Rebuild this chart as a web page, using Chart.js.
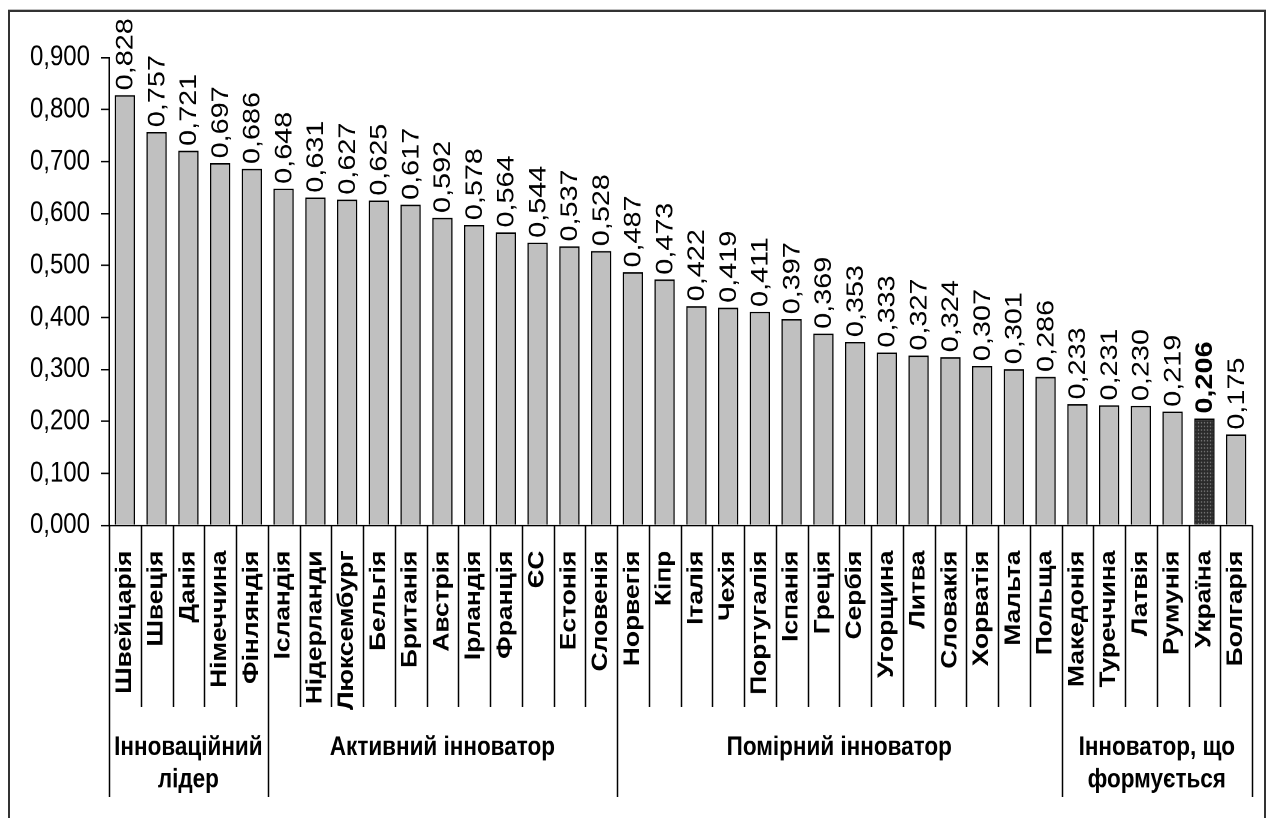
<!DOCTYPE html>
<html>
<head>
<meta charset="utf-8">
<script src="https://cdn.jsdelivr.net/npm/chart.js@4.4.0/dist/chart.umd.min.js"></script>
<style>
  html, body { margin: 0; background: #fff; }
  #page { width: 1269px; height: 818px; overflow: hidden; position: relative; }
  /* the original figure is a little stretched vertically, so the chart is drawn at 682px and scaled to 818px */
  #wrap { width: 1269px; height: 682px; position: absolute; left: 0; top: 0; transform: scaleY(1.19941); transform-origin: 0 0; }
</style>
</head>
<body>
<div id="page"><div id="wrap"><canvas id="innovChart"></canvas></div></div>
<script>
// Countries in the order of the bars
const countries = ['Швейцарія', 'Швеція', 'Данія', 'Німеччина', 'Фінляндія',
  'Ісландія', 'Нідерланди', 'Люксембург', 'Бельгія', 'Британія', 'Австрія', 'Ірландія', 'Франція', 'ЄС', 'Естонія', 'Словенія',
  'Норвегія', 'Кіпр', 'Італія', 'Чехія', 'Португалія', 'Іспанія', 'Греція', 'Сербія', 'Угорщина', 'Литва', 'Словакія', 'Хорватія', 'Мальта', 'Польща',
  'Македонія', 'Туреччина', 'Латвія', 'Румунія', 'Україна', 'Болгарія'];
const values = [0.828, 0.757, 0.721, 0.697, 0.686,
  0.648, 0.631, 0.627, 0.625, 0.617, 0.592, 0.578, 0.564, 0.544, 0.537, 0.528,
  0.487, 0.473, 0.422, 0.419, 0.411, 0.397, 0.369, 0.353, 0.333, 0.327, 0.324, 0.307, 0.301, 0.286,
  0.233, 0.231, 0.230, 0.219, 0.206, 0.175];
// Groups below the axis (label lines, number of countries)
const groupNames = [['Інноваційний', 'лідер'], ['Активний інноватор'], ['Помірний інноватор'], ['Інноватор, що', 'формується']];
const groupSizes = [5, 11, 14, 6];
const highlighted = 'Україна';
// Y axis ticks
const yMin = 0;
const yMax = 0.9;
const yStep = 0.1;

const FONT = 'Arial, "Liberation Sans", sans-serif';

// dotted dark fill for the highlighted bar
function makePattern() {
  const p = document.createElement('canvas');
  p.width = 3; p.height = 3;
  const c = p.getContext('2d');
  c.fillStyle = '#2a2a2a';
  c.fillRect(0, 0, 3, 3);
  c.fillStyle = '#a8a8a8';
  c.fillRect(1, 1, 1, 1);
  return c.createPattern(p, 'repeat');
}
const ctx = document.getElementById('innovChart').getContext('2d');
const dotted = makePattern();
const fills = countries.map(c => c === highlighted ? dotted : '#c0c0c0');

const fmt = v => v.toFixed(3).replace('.', ',');

// outer frame (no bottom edge, it is cut off in the original)
const framePlugin = {
  id: 'frame',
  beforeDraw(chart) {
    const c = chart.ctx;
    c.save();
    c.strokeStyle = '#333';
    c.lineWidth = 2;
    c.beginPath();
    c.moveTo(9, chart.height);
    c.lineTo(9, 9);
    c.lineTo(1265, 9);
    c.lineTo(1265, chart.height);
    c.stroke();
    c.restore();
  }
};

// value labels above bars
const valuePlugin = {
  id: 'values',
  afterDatasetsDraw(chart) {
    const c = chart.ctx;
    const meta = chart.getDatasetMeta(0);
    c.save();
    c.fillStyle = '#000';
    c.textAlign = 'left';
    c.textBaseline = 'middle';
    meta.data.forEach((bar, i) => {
      const bold = countries[i] === highlighted;
      c.font = (bold ? 'bold ' : '') + '24px ' + FONT;
      c.save();
      c.translate(bar.x + 1, bar.y - 4);
      c.rotate(-Math.PI / 2);
      c.fillText(fmt(values[i]), 0, 0);
      c.restore();
    });
    c.restore();
  }
};

// category dividers and group labels under the axis
const groupPlugin = {
  id: 'groups',
  afterDraw(chart) {
    const c = chart.ctx;
    const xs = chart.scales.x;
    const area = chart.chartArea;
    const edge = i => {
      if (i <= 0) return area.left;
      if (i >= countries.length) return area.right;
      return (xs.getPixelForValue(i - 1) + xs.getPixelForValue(i)) / 2;
    };
    const groupEdges = [0];
    groupSizes.forEach(n => groupEdges.push(groupEdges[groupEdges.length - 1] + n));
    c.save();
    c.strokeStyle = '#000';
    c.lineWidth = 1.5;
    for (let i = 0; i <= countries.length; i++) {
      const x = Math.round(edge(i)) + 0.5;
      const long = groupEdges.includes(i);
      c.beginPath();
      c.moveTo(x, area.bottom);
      c.lineTo(x, long ? 664.5 : 589.5);
      c.stroke();
    }
    c.fillStyle = '#000';
    c.font = 'bold 22.5px ' + FONT;
    c.textAlign = 'center';
    c.textBaseline = 'alphabetic';
    groupNames.forEach((lines, g) => {
      const cx = (edge(groupEdges[g]) + edge(groupEdges[g + 1])) / 2;
      lines.forEach((t, k) => c.fillText(t, cx, 629.5 + k * 27));
    });
    c.restore();
  }
};

new Chart(ctx, {
  type: 'bar',
  data: {
    labels: countries,
    datasets: [{
      data: values,
      backgroundColor: fills,
      borderColor: '#000',
      borderWidth: 1.4,
      borderSkipped: 'bottom',
      barPercentage: 0.64,
      categoryPercentage: 1.0
    }]
  },
  options: {
    responsive: true,
    maintainAspectRatio: false,
    animation: false,
    devicePixelRatio: 2,
    layout: { padding: { top: 48, right: 17, left: 0, bottom: 0 } },
    plugins: {
      legend: { display: false },
      tooltip: { enabled: false }
    },
    scales: {
      x: {
        afterFit(scale) {
          scale.height = 244;
          scale.paddingLeft = 0;
          scale.paddingRight = 0;
        },
        grid: { display: false, drawTicks: false },
        border: { color: '#000', width: 1.3 },
        ticks: {
          autoSkip: false,
          minRotation: 90,
          maxRotation: 90,
          padding: 21,
          color: '#000',
          font: { family: FONT, size: 22, weight: 'bold' }
        }
      },
      y: {
        min: yMin,
        max: yMax,
        afterFit(scale) { scale.width = 109; },
        grid: { drawOnChartArea: false, tickLength: 8, color: '#000', lineWidth: 1.3 },
        border: { color: '#000', width: 1.5 },
        ticks: {
          stepSize: yStep,
          padding: 11,
          color: '#000',
          font: { family: FONT, size: 24 },
          callback: v => fmt(v)
        }
      }
    }
  },
  plugins: [framePlugin, valuePlugin, groupPlugin]
});
</script>
</body>
</html>
